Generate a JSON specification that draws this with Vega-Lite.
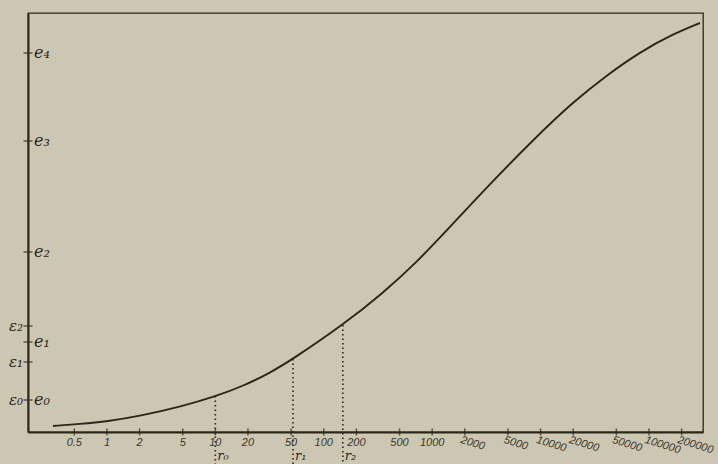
{
  "$schema": "https://vega.github.io/schema/vega-lite/v6.json",
  "width": 675,
  "height": 419,
  "autosize": "none",
  "padding": {"left": 28, "top": 13, "right": 15, "bottom": 32},
  "background": "#ccc7b3",
  "config": {
    "view": {"stroke": "#2c2819", "strokeWidth": 1.3},
    "axis": {"domain": false, "ticks": false, "labels": false, "grid": false, "title": null}
  },
  "datasets": {
    "curve": [
      {"r": 0.318, "y": 6}, {"r": 0.564, "y": 8}, {"r": 1.0, "y": 10.5}, {"r": 2.02, "y": 16},
      {"r": 4.71, "y": 25}, {"r": 10.3, "y": 36}, {"r": 18.0, "y": 46}, {"r": 31.9, "y": 59},
      {"r": 52.0, "y": 73}, {"r": 150, "y": 107}, {"r": 352, "y": 139}, {"r": 724, "y": 170},
      {"r": 1460, "y": 205}, {"r": 3204, "y": 245}, {"r": 8510, "y": 292}, {"r": 19900, "y": 330},
      {"r": 41000, "y": 357}, {"r": 82600, "y": 380}, {"r": 166300, "y": 398}, {"r": 295000, "y": 409}
    ],
    "xticks": [
      {"v": 0.5, "lab": "0.5"}, {"v": 1, "lab": "1"}, {"v": 2, "lab": "2"}, {"v": 5, "lab": "5"},
      {"v": 10, "lab": "10"}, {"v": 20, "lab": "20"}, {"v": 50, "lab": "50"}, {"v": 100, "lab": "100"},
      {"v": 200, "lab": "200"}, {"v": 500, "lab": "500"}, {"v": 1000, "lab": "1000"},
      {"v": 2000, "lab": "2000"}, {"v": 5000, "lab": "5000"}, {"v": 10000, "lab": "10000"},
      {"v": 20000, "lab": "20000"}, {"v": 50000, "lab": "50000"}, {"v": 100000, "lab": "100000"},
      {"v": 200000, "lab": "200000"}
    ],
    "yticks": [
      {"y": 32, "e": "e₀", "eps": "ε₀"}, {"y": 70, "e": null, "eps": "ε₁"},
      {"y": 90, "e": "e₁", "eps": null}, {"y": 106, "e": null, "eps": "ε₂"},
      {"y": 180, "e": "e₂", "eps": null}, {"y": 291, "e": "e₃", "eps": null},
      {"y": 379, "e": "e₄", "eps": null}
    ],
    "rlines": [
      {"r": 10, "top": 36, "bottom": -32, "lab": "r₀"},
      {"r": 52, "top": 73, "bottom": -32, "lab": "r₁"},
      {"r": 150, "top": 107, "bottom": -32, "lab": "r₂"}
    ]
  },
  "layer": [
    {
      "data": {"name": "curve"},
      "mark": {"type": "line", "interpolate": "basis", "color": "#2a2619", "strokeWidth": 1.9},
      "encoding": {
        "x": {"field": "r", "type": "quantitative", "scale": {"type": "log", "domain": [0.187, 315000], "nice": false}, "axis": {"domain": true, "domainColor": "#2c2819", "domainWidth": 2}},
        "y": {"field": "y", "type": "quantitative", "scale": {"domain": [0, 419], "nice": false, "zero": false}, "axis": {"domain": true, "domainColor": "#2c2819", "domainWidth": 2}}
      }
    },
    {
      "data": {"name": "rlines"},
      "mark": {"type": "rule", "color": "#2a2619", "strokeWidth": 1.6, "strokeDash": [1.5, 3]},
      "encoding": {
        "x": {"field": "r", "type": "quantitative"},
        "y": {"field": "top", "type": "quantitative"},
        "y2": {"field": "bottom"}
      }
    },
    {
      "data": {"name": "rlines"},
      "mark": {"type": "text", "font": "DejaVu Serif", "fontStyle": "italic", "fontSize": 13, "align": "left", "baseline": "middle", "dx": 2, "color": "#2a2619"},
      "encoding": {
        "x": {"field": "r", "type": "quantitative"},
        "y": {"datum": -24},
        "text": {"field": "lab"}
      }
    },
    {
      "data": {"name": "xticks"},
      "mark": {"type": "tick", "orient": "vertical", "size": 7, "thickness": 1.5, "color": "#2a2619"},
      "encoding": {
        "x": {"field": "v", "type": "quantitative"},
        "y": {"datum": 0}
      }
    },
    {
      "data": {"name": "xticks"},
      "transform": [{"filter": "datum.v < 2000"}],
      "mark": {"type": "text", "font": "Liberation Sans", "fontStyle": "italic", "fontSize": 11, "align": "center", "baseline": "middle", "color": "#3a3628"},
      "encoding": {
        "x": {"field": "v", "type": "quantitative"},
        "y": {"datum": -11},
        "text": {"field": "lab"}
      }
    },
    {
      "data": {"name": "xticks"},
      "transform": [{"filter": "datum.v >= 2000"}],
      "mark": {"type": "text", "font": "Liberation Sans", "fontStyle": "italic", "fontSize": 11, "align": "left", "baseline": "middle", "angle": 17, "dx": -4, "color": "#3a3628"},
      "encoding": {
        "x": {"field": "v", "type": "quantitative"},
        "y": {"datum": -9},
        "text": {"field": "lab"}
      }
    },
    {
      "data": {"name": "yticks"},
      "mark": {"type": "tick", "orient": "horizontal", "size": 9, "thickness": 1.5, "color": "#2a2619"},
      "encoding": {
        "x": {"datum": 0.187},
        "y": {"field": "y", "type": "quantitative"}
      }
    },
    {
      "data": {"name": "yticks"},
      "transform": [{"filter": "isValid(datum.e)"}],
      "mark": {"type": "text", "font": "DejaVu Serif", "fontStyle": "italic", "fontSize": 16, "align": "left", "baseline": "middle", "dx": 6, "color": "#2a2619"},
      "encoding": {
        "x": {"datum": 0.187},
        "y": {"field": "y", "type": "quantitative"},
        "text": {"field": "e"}
      }
    },
    {
      "data": {"name": "yticks"},
      "transform": [{"filter": "isValid(datum.eps)"}],
      "mark": {"type": "text", "font": "DejaVu Serif", "fontStyle": "italic", "fontSize": 15, "align": "right", "baseline": "middle", "dx": -5, "color": "#2a2619"},
      "encoding": {
        "x": {"datum": 0.187},
        "y": {"field": "y", "type": "quantitative"},
        "text": {"field": "eps"}
      }
    }
  ]
}
